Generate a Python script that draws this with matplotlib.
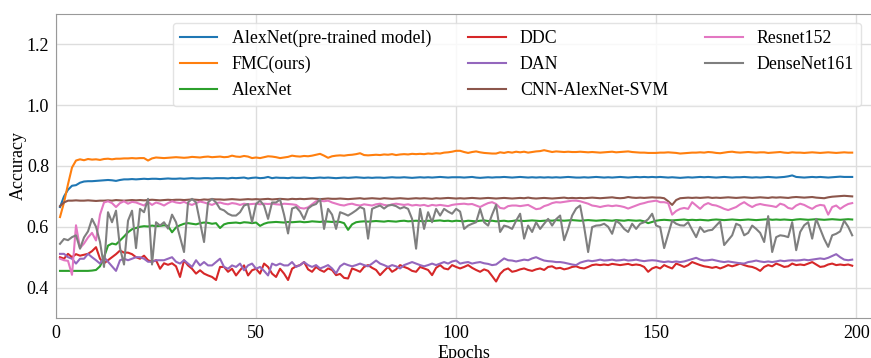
import numpy as np
import matplotlib
matplotlib.use("Agg")
import matplotlib.pyplot as plt

plt.rcParams['font.family'] = ['Liberation Serif', 'DejaVu Serif']

epochs = list(range(1, 200))

alexnet_pre = [
    0.665, 0.700, 0.722, 0.735, 0.737, 0.745, 0.749, 0.750, 0.750, 0.751,
    0.752, 0.753, 0.754, 0.753, 0.751, 0.754, 0.756, 0.756, 0.757, 0.756,
    0.757, 0.758, 0.757, 0.758, 0.758, 0.757, 0.758, 0.759, 0.758, 0.758,
    0.759, 0.758, 0.759, 0.760, 0.759, 0.759, 0.760, 0.760, 0.759, 0.760,
    0.760, 0.760, 0.759, 0.761, 0.760, 0.761, 0.762, 0.759, 0.761, 0.762,
    0.760, 0.761, 0.764, 0.760, 0.762, 0.761, 0.761, 0.760, 0.762, 0.761,
    0.761, 0.762, 0.761, 0.760, 0.761, 0.762, 0.761, 0.762, 0.761, 0.760,
    0.761, 0.762, 0.761, 0.762, 0.763, 0.762, 0.761, 0.762, 0.761, 0.762,
    0.762, 0.761, 0.762, 0.763, 0.762, 0.762, 0.763, 0.762, 0.761, 0.762,
    0.763, 0.762, 0.763, 0.762, 0.763, 0.764, 0.763, 0.762, 0.763, 0.763,
    0.763, 0.762, 0.763, 0.764, 0.762, 0.761, 0.762, 0.763, 0.762, 0.763,
    0.763, 0.764, 0.763, 0.762, 0.763, 0.764, 0.763, 0.762, 0.763, 0.762,
    0.763, 0.762, 0.763, 0.762, 0.763, 0.762, 0.763, 0.764, 0.763, 0.762,
    0.762, 0.763, 0.762, 0.763, 0.764, 0.763, 0.762, 0.763, 0.762, 0.763,
    0.764, 0.763, 0.762, 0.763, 0.764, 0.763, 0.764, 0.763, 0.764, 0.763,
    0.764, 0.763, 0.762, 0.763, 0.762, 0.761, 0.762, 0.763, 0.762, 0.763,
    0.764, 0.763, 0.764, 0.763, 0.762, 0.763, 0.764, 0.763, 0.762, 0.763,
    0.763, 0.764, 0.763, 0.762, 0.763, 0.762, 0.763, 0.764, 0.763, 0.762,
    0.763, 0.764, 0.766, 0.769, 0.764, 0.763, 0.762, 0.763, 0.764, 0.763,
    0.764, 0.763, 0.762, 0.763, 0.764, 0.765, 0.764, 0.764, 0.764,
]

fmc = [
    0.632, 0.680, 0.740, 0.795, 0.818, 0.822, 0.819, 0.823, 0.821, 0.822,
    0.820, 0.823, 0.824, 0.822, 0.824, 0.824, 0.825, 0.825, 0.826, 0.825,
    0.826, 0.826, 0.818, 0.825, 0.828, 0.827, 0.826, 0.827, 0.828, 0.829,
    0.828, 0.827, 0.828, 0.830, 0.829, 0.828, 0.830, 0.831, 0.829, 0.830,
    0.831, 0.829, 0.830, 0.834, 0.831, 0.830, 0.833, 0.831, 0.826, 0.828,
    0.826, 0.829, 0.832, 0.831, 0.829, 0.826, 0.828, 0.830, 0.834, 0.832,
    0.831, 0.833, 0.832, 0.834, 0.837, 0.840, 0.834, 0.827, 0.832, 0.834,
    0.835, 0.834, 0.836, 0.837, 0.839, 0.842, 0.836, 0.835, 0.836, 0.837,
    0.836, 0.838, 0.837, 0.839, 0.836, 0.838, 0.839, 0.838, 0.840, 0.839,
    0.840, 0.839, 0.841, 0.840, 0.842, 0.841, 0.844, 0.845, 0.847, 0.850,
    0.850, 0.846, 0.843, 0.846, 0.848, 0.845, 0.843, 0.842, 0.841, 0.841,
    0.845, 0.843, 0.846, 0.844, 0.847, 0.845, 0.847, 0.844, 0.846, 0.848,
    0.849, 0.852, 0.849, 0.846, 0.848, 0.847, 0.846, 0.847, 0.846, 0.846,
    0.847, 0.846, 0.845, 0.846, 0.845, 0.844, 0.845, 0.846, 0.847, 0.845,
    0.846, 0.847, 0.848, 0.846, 0.845, 0.844, 0.844, 0.843, 0.843, 0.843,
    0.844, 0.844, 0.845, 0.844, 0.843, 0.841, 0.842, 0.843, 0.844, 0.844,
    0.845, 0.844, 0.846, 0.845, 0.843, 0.842, 0.844, 0.846, 0.847, 0.845,
    0.844, 0.845, 0.846, 0.845, 0.844, 0.845, 0.845, 0.843, 0.844, 0.845,
    0.846, 0.844, 0.843, 0.845, 0.844, 0.844, 0.843, 0.844, 0.845, 0.844,
    0.843, 0.844, 0.845, 0.844, 0.843, 0.844, 0.845, 0.844, 0.844,
]

alexnet = [
    0.455, 0.455, 0.455, 0.455, 0.455, 0.455, 0.455, 0.455, 0.456, 0.458,
    0.470, 0.500, 0.538, 0.545, 0.542, 0.555, 0.568, 0.582, 0.592, 0.596,
    0.600, 0.602, 0.601, 0.604, 0.602, 0.603, 0.605, 0.603, 0.582, 0.598,
    0.605, 0.610, 0.612, 0.610, 0.608, 0.612, 0.614, 0.613, 0.610, 0.612,
    0.596, 0.608, 0.612, 0.613, 0.614, 0.612, 0.615, 0.614, 0.612, 0.614,
    0.603, 0.610, 0.614, 0.615, 0.616, 0.615, 0.614, 0.616, 0.615, 0.616,
    0.617, 0.615, 0.616, 0.618, 0.617, 0.616, 0.618, 0.617, 0.616, 0.617,
    0.616, 0.612, 0.590, 0.608, 0.615, 0.617, 0.618, 0.617, 0.618, 0.619,
    0.618, 0.617, 0.619, 0.618, 0.617, 0.619, 0.620, 0.618, 0.619, 0.620,
    0.619, 0.618, 0.620, 0.619, 0.620, 0.621, 0.619, 0.620, 0.618, 0.620,
    0.619, 0.618, 0.620, 0.619, 0.618, 0.620, 0.621, 0.619, 0.620, 0.618,
    0.619, 0.620, 0.618, 0.619, 0.621, 0.620, 0.619, 0.620, 0.621, 0.620,
    0.619, 0.620, 0.621, 0.620, 0.622, 0.621, 0.620, 0.621, 0.622, 0.621,
    0.620, 0.621, 0.622, 0.621, 0.620, 0.621, 0.622, 0.621, 0.620, 0.622,
    0.621, 0.620, 0.622, 0.621, 0.620, 0.621, 0.618, 0.612, 0.616, 0.620,
    0.622, 0.623, 0.622, 0.621, 0.622, 0.623, 0.624, 0.622, 0.623, 0.622,
    0.623, 0.622, 0.621, 0.623, 0.624, 0.623, 0.622, 0.623, 0.624, 0.623,
    0.622, 0.623, 0.624, 0.623, 0.622, 0.623, 0.624, 0.625, 0.623, 0.624,
    0.623, 0.624, 0.623, 0.622, 0.624, 0.625, 0.624, 0.623, 0.624, 0.625,
    0.624, 0.623, 0.624, 0.625, 0.624, 0.623, 0.624, 0.625, 0.624,
]

ddc = [
    0.500, 0.495, 0.511, 0.500, 0.510, 0.505, 0.508, 0.511, 0.520, 0.533,
    0.495, 0.480, 0.490, 0.500, 0.510, 0.522, 0.515, 0.515, 0.510, 0.500,
    0.495, 0.505, 0.490, 0.485, 0.490, 0.462, 0.480, 0.475, 0.480, 0.470,
    0.435, 0.490, 0.473, 0.462, 0.446, 0.457, 0.446, 0.440, 0.435, 0.425,
    0.468, 0.468, 0.452, 0.462, 0.440, 0.457, 0.473, 0.440, 0.457, 0.462,
    0.446, 0.479, 0.468, 0.446, 0.435, 0.462, 0.446, 0.425, 0.462, 0.470,
    0.474, 0.484, 0.460, 0.452, 0.468, 0.458, 0.452, 0.463, 0.458, 0.441,
    0.445, 0.432, 0.430, 0.463, 0.458, 0.452, 0.468, 0.474, 0.465, 0.458,
    0.441, 0.455, 0.468, 0.452, 0.460, 0.474, 0.468, 0.463, 0.455, 0.452,
    0.468, 0.463, 0.458, 0.441, 0.465, 0.474, 0.463, 0.460, 0.474, 0.468,
    0.463, 0.468, 0.474, 0.465, 0.458, 0.452, 0.460, 0.455, 0.438, 0.420,
    0.445, 0.458, 0.463, 0.452, 0.455, 0.460, 0.463, 0.458, 0.455, 0.460,
    0.463, 0.458, 0.468, 0.470, 0.463, 0.465, 0.460, 0.463, 0.468, 0.470,
    0.465, 0.463, 0.468, 0.474, 0.476, 0.474, 0.476, 0.474, 0.478, 0.476,
    0.474, 0.476, 0.478, 0.474, 0.476, 0.474, 0.468, 0.452, 0.463, 0.468,
    0.463, 0.474, 0.468, 0.463, 0.479, 0.474, 0.468, 0.474, 0.484, 0.479,
    0.474, 0.470, 0.468, 0.465, 0.468, 0.463, 0.468, 0.474, 0.470, 0.474,
    0.479, 0.474, 0.470, 0.468, 0.463, 0.455, 0.468, 0.474, 0.470, 0.479,
    0.474, 0.468, 0.470, 0.479, 0.474, 0.476, 0.474, 0.479, 0.484, 0.476,
    0.468, 0.470, 0.476, 0.479, 0.474, 0.476, 0.474, 0.476, 0.472,
]

dan = [
    0.511, 0.511, 0.500, 0.495, 0.479, 0.495, 0.495, 0.511, 0.500, 0.490,
    0.479, 0.500, 0.485, 0.470, 0.455, 0.490, 0.495, 0.490, 0.495, 0.500,
    0.500, 0.495, 0.485, 0.485, 0.490, 0.490, 0.490, 0.495, 0.500, 0.485,
    0.479, 0.490, 0.479, 0.468, 0.490, 0.473, 0.484, 0.473, 0.473, 0.484,
    0.495, 0.468, 0.462, 0.473, 0.468, 0.479, 0.457, 0.473, 0.479, 0.462,
    0.468, 0.455, 0.440, 0.479, 0.473, 0.479, 0.473, 0.473, 0.484, 0.468,
    0.474, 0.484, 0.474, 0.468, 0.474, 0.463, 0.468, 0.474, 0.463, 0.447,
    0.470, 0.479, 0.474, 0.470, 0.474, 0.479, 0.474, 0.470, 0.479, 0.489,
    0.479, 0.474, 0.468, 0.474, 0.470, 0.463, 0.474, 0.479, 0.484, 0.479,
    0.474, 0.470, 0.474, 0.479, 0.474, 0.479, 0.484, 0.479, 0.486, 0.489,
    0.479, 0.482, 0.484, 0.479, 0.482, 0.484, 0.480, 0.478, 0.474, 0.476,
    0.486, 0.496, 0.490, 0.489, 0.486, 0.489, 0.492, 0.490, 0.496, 0.500,
    0.494, 0.489, 0.487, 0.486, 0.484, 0.484, 0.482, 0.479, 0.476, 0.474,
    0.482, 0.486, 0.489, 0.487, 0.489, 0.492, 0.489, 0.490, 0.492, 0.489,
    0.490, 0.492, 0.489, 0.490, 0.492, 0.489, 0.487, 0.489, 0.490, 0.489,
    0.486, 0.484, 0.486, 0.484, 0.486, 0.484, 0.486, 0.490, 0.494, 0.498,
    0.492, 0.489, 0.490, 0.492, 0.489, 0.486, 0.484, 0.486, 0.484, 0.482,
    0.480, 0.479, 0.484, 0.486, 0.489, 0.486, 0.484, 0.486, 0.484, 0.486,
    0.489, 0.487, 0.489, 0.490, 0.489, 0.490, 0.492, 0.490, 0.492, 0.494,
    0.496, 0.494, 0.498, 0.504, 0.510, 0.500, 0.492, 0.490, 0.492,
]

cnn_svm = [
    0.668, 0.680, 0.686, 0.686, 0.687, 0.686, 0.686, 0.687, 0.686, 0.685,
    0.686, 0.686, 0.687, 0.686, 0.688, 0.687, 0.686, 0.687, 0.688, 0.687,
    0.688, 0.687, 0.688, 0.689, 0.688, 0.687, 0.688, 0.689, 0.688, 0.689,
    0.689, 0.688, 0.689, 0.690, 0.689, 0.688, 0.690, 0.689, 0.691, 0.690,
    0.690, 0.689, 0.690, 0.691, 0.690, 0.689, 0.690, 0.691, 0.690, 0.691,
    0.690, 0.691, 0.692, 0.690, 0.691, 0.692, 0.691, 0.690, 0.692, 0.691,
    0.692, 0.691, 0.692, 0.693, 0.692, 0.691, 0.692, 0.693, 0.692, 0.692,
    0.693, 0.692, 0.691, 0.692, 0.693, 0.694, 0.692, 0.693, 0.694, 0.693,
    0.692, 0.694, 0.693, 0.692, 0.693, 0.694, 0.693, 0.692, 0.693, 0.694,
    0.693, 0.694, 0.693, 0.692, 0.694, 0.693, 0.694, 0.695, 0.694, 0.693,
    0.694, 0.693, 0.694, 0.695, 0.694, 0.693, 0.694, 0.695, 0.694, 0.693,
    0.694, 0.695, 0.694, 0.693, 0.694, 0.695, 0.694, 0.696, 0.694, 0.693,
    0.694, 0.695, 0.694, 0.693, 0.694, 0.695, 0.696, 0.694, 0.695, 0.694,
    0.695, 0.694, 0.695, 0.696, 0.695, 0.694, 0.695, 0.696, 0.697, 0.695,
    0.694, 0.695, 0.698, 0.696, 0.695, 0.696, 0.695, 0.696, 0.697, 0.696,
    0.696, 0.694, 0.684, 0.672, 0.688, 0.694, 0.695, 0.696, 0.695, 0.696,
    0.695, 0.696, 0.697, 0.695, 0.696, 0.695, 0.696, 0.697, 0.696, 0.695,
    0.696, 0.697, 0.696, 0.695, 0.696, 0.697, 0.696, 0.695, 0.697, 0.696,
    0.697, 0.696, 0.695, 0.697, 0.698, 0.697, 0.696, 0.697, 0.698, 0.696,
    0.695, 0.694, 0.697, 0.699, 0.700, 0.701, 0.702, 0.701, 0.700,
]

resnet152 = [
    0.495, 0.490, 0.488, 0.442, 0.605, 0.530, 0.545, 0.565, 0.580, 0.555,
    0.640, 0.680, 0.684, 0.678, 0.665, 0.678, 0.684, 0.676, 0.682, 0.680,
    0.675, 0.670, 0.682, 0.672, 0.680, 0.676, 0.670, 0.678, 0.684, 0.680,
    0.678, 0.682, 0.676, 0.672, 0.678, 0.683, 0.680, 0.676, 0.672, 0.678,
    0.680, 0.676, 0.674, 0.678, 0.676, 0.672, 0.676, 0.674, 0.675, 0.676,
    0.674, 0.676, 0.675, 0.676, 0.674, 0.673, 0.676, 0.675, 0.674, 0.672,
    0.662, 0.660, 0.664, 0.674, 0.684, 0.686, 0.684, 0.686, 0.680, 0.676,
    0.672, 0.670, 0.674, 0.676, 0.672, 0.670, 0.674, 0.672, 0.670, 0.674,
    0.676, 0.672, 0.670, 0.674, 0.676, 0.674, 0.672, 0.674, 0.670, 0.672,
    0.670, 0.672, 0.668, 0.672, 0.670, 0.672, 0.670, 0.668, 0.672, 0.674,
    0.675, 0.676, 0.674, 0.675, 0.670, 0.665, 0.672, 0.678, 0.681, 0.675,
    0.662, 0.660, 0.668, 0.670, 0.670, 0.668, 0.670, 0.672, 0.665, 0.658,
    0.660, 0.668, 0.672, 0.678, 0.681, 0.680, 0.682, 0.684, 0.686, 0.686,
    0.684, 0.680, 0.676, 0.670, 0.668, 0.665, 0.668, 0.670, 0.668, 0.670,
    0.668, 0.665, 0.660, 0.665, 0.670, 0.675, 0.678, 0.682, 0.684, 0.686,
    0.681, 0.681, 0.678, 0.640, 0.652, 0.659, 0.662, 0.659, 0.681, 0.670,
    0.659, 0.672, 0.678, 0.672, 0.670, 0.665, 0.659, 0.655, 0.660, 0.665,
    0.674, 0.681, 0.672, 0.665, 0.672, 0.675, 0.672, 0.670, 0.668, 0.665,
    0.676, 0.672, 0.662, 0.659, 0.670, 0.676, 0.672, 0.665, 0.659, 0.668,
    0.672, 0.670, 0.640, 0.665, 0.670, 0.659, 0.668, 0.675, 0.678,
]

densenet161 = [
    0.544, 0.560, 0.556, 0.566, 0.572, 0.528, 0.565, 0.585, 0.626, 0.600,
    0.550, 0.468, 0.648, 0.615, 0.653, 0.530, 0.476, 0.620, 0.653, 0.530,
    0.659, 0.648, 0.692, 0.476, 0.615, 0.604, 0.615, 0.594, 0.640, 0.615,
    0.566, 0.517, 0.680, 0.692, 0.680, 0.615, 0.550, 0.680, 0.692, 0.680,
    0.659, 0.654, 0.643, 0.637, 0.637, 0.648, 0.670, 0.675, 0.615, 0.675,
    0.686, 0.670, 0.626, 0.680, 0.680, 0.690, 0.640, 0.578, 0.660, 0.665,
    0.650, 0.625, 0.660, 0.670, 0.675, 0.692, 0.593, 0.659, 0.640, 0.593,
    0.648, 0.643, 0.637, 0.645, 0.654, 0.665, 0.659, 0.561, 0.659, 0.665,
    0.670, 0.660, 0.670, 0.672, 0.668, 0.660, 0.665, 0.659, 0.626, 0.528,
    0.659, 0.593, 0.648, 0.615, 0.659, 0.637, 0.659, 0.650, 0.643, 0.659,
    0.650, 0.593, 0.604, 0.610, 0.615, 0.659, 0.615, 0.604, 0.640, 0.672,
    0.583, 0.604, 0.600, 0.593, 0.620, 0.643, 0.561, 0.604, 0.583, 0.615,
    0.593, 0.610, 0.626, 0.604, 0.625, 0.637, 0.556, 0.593, 0.637, 0.660,
    0.670, 0.600, 0.517, 0.599, 0.604, 0.605, 0.610, 0.600, 0.577, 0.620,
    0.610, 0.593, 0.583, 0.610, 0.593, 0.610, 0.615, 0.625, 0.643, 0.604,
    0.599, 0.530, 0.575, 0.620, 0.610, 0.605, 0.604, 0.615, 0.590, 0.566,
    0.599, 0.583, 0.588, 0.590, 0.604, 0.618, 0.540, 0.556, 0.572, 0.610,
    0.604, 0.572, 0.580, 0.604, 0.593, 0.580, 0.550, 0.635, 0.517, 0.566,
    0.572, 0.570, 0.566, 0.615, 0.523, 0.583, 0.605, 0.615, 0.561, 0.626,
    0.593, 0.560, 0.534, 0.572, 0.577, 0.585, 0.620, 0.600, 0.572,
]

series = [
    ("AlexNet(pre-trained model)", alexnet_pre),
    ("FMC(ours)", fmc),
    ("AlexNet", alexnet),
    ("DDC", ddc),
    ("DAN", dan),
    ("CNN-AlexNet-SVM", cnn_svm),
    ("Resnet152", resnet152),
    ("DenseNet161", densenet161),
]

fig = plt.figure(figsize=(8.71, 3.58), dpi=100)
ax = fig.add_axes([56 / 871, 40 / 358, 815 / 871, 304 / 358])

for name, vals in series:
    ax.plot(epochs, vals, label=name, linewidth=1.5)

ax.set_xlim(0, 203.7)
ax.set_ylim(0.3, 1.3)
ax.set_xticks([0, 50, 100, 150, 200])
ax.set_yticks([0.4, 0.6, 0.8, 1.0, 1.2])
ax.grid(True, color='#dddddd', linewidth=1)
ax.set_axisbelow(True)
ax.tick_params(length=0, labelsize=13, pad=5)
for s in ax.spines.values():
    s.set_color('#999999')
ax.spines['right'].set_visible(False)

ax.set_xlabel("Epochs", fontsize=13, labelpad=2)
ax.set_ylabel("Accuracy", fontsize=13, labelpad=0)

ax.legend(ncol=3, loc='upper right', fontsize=12.8, frameon=True,
          bbox_to_anchor=(0.988, 0.971), borderaxespad=0,
          columnspacing=2.1, handlelength=2.1, handletextpad=0.8,
          framealpha=0.8, edgecolor='#dddddd', borderpad=0.4, labelspacing=0.5)

fig.savefig("out.png", dpi=100)
